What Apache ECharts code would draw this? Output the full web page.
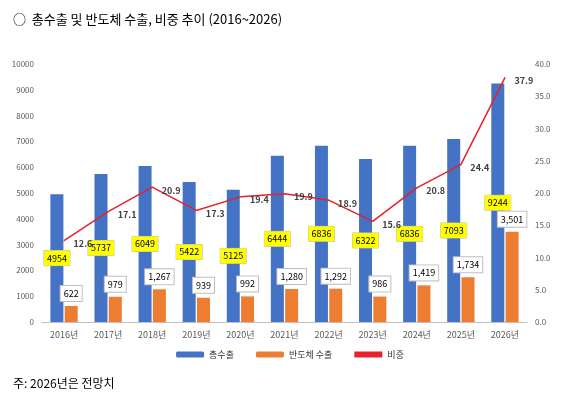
<!DOCTYPE html>
<html><head><meta charset="utf-8">
<script src="https://cdn.jsdelivr.net/npm/echarts@6/dist/echarts.min.js"></script>
<style>body{margin:0;background:#fff}#c{width:580px;height:400px}</style>
</head><body><div id="c"></div>
<script>
var years = ['2016년','2017년','2018년','2019년','2020년','2021년','2022년','2023년','2024년','2025년','2026년'];
var totalExport = [4954, 5737, 6049, 5422, 5125, 6444, 6836, 6322, 6836, 7093, 9244];
var semiExport = [622, 979, 1267, 939, 992, 1280, 1292, 986, 1419, 1734, 3501];
var shareRatio = [12.6, 17.1, 20.9, 17.3, 19.4, 19.9, 18.9, 15.6, 20.8, 24.4, 37.9];

var font = '"Noto Sans CJK KR", sans-serif';
var chart = echarts.init(document.getElementById('c'));
chart.setOption({
  textStyle: { fontFamily: font },
  title: [
    { text: '○  총수출 및 반도체 수출, 비중 추이 (2016~2026)', left: 8, top: 8,
      textStyle: { fontSize: 13, fontWeight: 'normal', color: '#000', fontFamily: font } },
    { text: '주: 2026년은 전망치', left: 8, top: 372,
      textStyle: { fontSize: 12, fontWeight: 'normal', color: '#000', fontFamily: font } }
  ],
  legend: {
    bottom: 36, itemWidth: 28, itemHeight: 6, itemGap: 22,
    textStyle: { fontSize: 9, color: '#333' },
    data: ['총수출', '반도체 수출', { name: '비중', icon: 'rect' }]
  },
  grid: { left: 42, right: 53, top: 64, bottom: 78 },
  xAxis: {
    type: 'category', data: years,
    axisLine: { lineStyle: { color: '#bfbfbf' } }, axisTick: { show: false },
    axisLabel: { fontSize: 9, color: '#595959' }
  },
  yAxis: [
    { type: 'value', min: 0, max: 10000, interval: 1000,
      axisLabel: { fontSize: 8, color: '#595959', formatter: function (v) { return String(v); } },
      splitLine: { show: false } },
    { type: 'value', min: 0, max: 40, interval: 5,
      axisLabel: { fontSize: 8, color: '#595959', formatter: function (v) { return v.toFixed(1); } },
      splitLine: { show: false } }
  ],
  series: [
    { name: '총수출', type: 'bar', data: totalExport, barWidth: 13, barGap: '10%',
      itemStyle: { color: '#4472C4' },
      label: { show: true, position: 'inside', fontSize: 9, color: '#000',
        backgroundColor: '#FFFF00', padding: [3, 3], borderColor: '#bbb', borderWidth: 0.5 } },
    { name: '반도체 수출', type: 'bar', data: semiExport, barWidth: 13,
      itemStyle: { color: '#ED7D31' },
      label: { show: true, position: 'top', fontSize: 9, color: '#000', distance: 5,
        backgroundColor: '#fff', borderColor: '#bfbfbf', borderWidth: 1, padding: [3, 3],
        formatter: function (p) { return p.value.toLocaleString('en-US'); } } },
    { name: '비중', type: 'line', yAxisIndex: 1, data: shareRatio,
      symbol: 'circle', symbolSize: 1, showSymbol: true,
      lineStyle: { color: '#E8202A', width: 1.5 }, itemStyle: { color: '#E8202A' },
      label: { show: true, position: 'right', offset: [4, 3], fontSize: 9, fontWeight: 'bold', color: '#404040' } }
  ]
});
</script></body></html>
